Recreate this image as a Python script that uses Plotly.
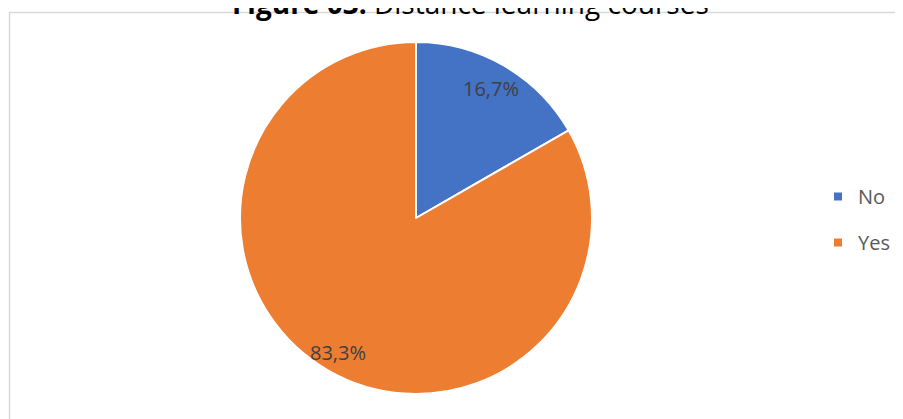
import math
import plotly.graph_objects as go

labels = ["No", "Yes"]
values = [16.7, 83.3]
colors = ["#4472C4", "#ED7D31"]
title_bold = "Figure 03."
title_rest = " Distance learning courses"

# page body has an 8px margin, so the figure is sized to fit the window exactly
W, H = 895, 411
cx, cy, r = 408, 210, 176  # pixel center/radius of pie within figure

fig = go.Figure()
fig.add_trace(go.Pie(
    labels=labels, values=values, sort=False, direction="clockwise", rotation=0,
    marker=dict(colors=colors, line=dict(color="white", width=2)),
    textinfo="none", hoverinfo="label+percent", showlegend=False,
    domain=dict(x=[(cx - r) / W, (cx + r) / W], y=[(H - cy - r) / H, (H - cy + r) / H]),
))

# legend entries (one group each so the spacing can match)
for i, (lab, col) in enumerate(zip(labels, colors)):
    fig.add_trace(go.Scatter(
        x=[None], y=[None], mode="markers", name=lab, legendgroup=f"g{i}",
        marker=dict(symbol="square", size=8, color=col), showlegend=True))

# data labels placed along each slice bisector
annotations = []
total = sum(values)
start = 0.0
fracs = [0.85, 0.885]
for v, f in zip(values, fracs):
    ang = (start + v / 2) / total * 2 * math.pi
    px = cx + f * r * math.sin(ang)
    py = cy - f * r * math.cos(ang)
    annotations.append(dict(
        x=px / W, y=1 - py / H, xref="paper", yref="paper", showarrow=False,
        text=f"{v:.1f}%".replace(".", ","),
        font=dict(family="Open Sans", size=20, color="#404040"),
        xanchor="center", yanchor="middle"))
    start += v

annotations.append(dict(
    x=462 / W, y=1, xref="paper", yref="paper", showarrow=False,
    text=f"<b>{title_bold}</b>{title_rest}", xanchor="center", yanchor="bottom",
    yshift=-16, font=dict(family="Open Sans", size=28, color="#000000")))

fig.update_layout(
    width=W, height=H, margin=dict(l=0, r=0, t=0, b=0),
    paper_bgcolor="white", plot_bgcolor="white",
    showlegend=True,
    xaxis=dict(visible=False), yaxis=dict(visible=False),
    legend=dict(x=810 / W, y=1 - 211.5 / H, xanchor="left", yanchor="middle",
                font=dict(family="Open Sans", size=20, color="#595959"),
                tracegroupgap=17, itemwidth=30, bgcolor="rgba(0,0,0,0)"),
    annotations=annotations,
    shapes=[dict(type="rect", xref="paper", yref="paper",
                 x0=1.5 / W, x1=1.05, y0=-0.05, y1=1 - 4.5 / H,
                 line=dict(color="#D9D9D9", width=1.5), fillcolor="rgba(0,0,0,0)",
                 layer="below")],
)
fig.write_html("out.html")
